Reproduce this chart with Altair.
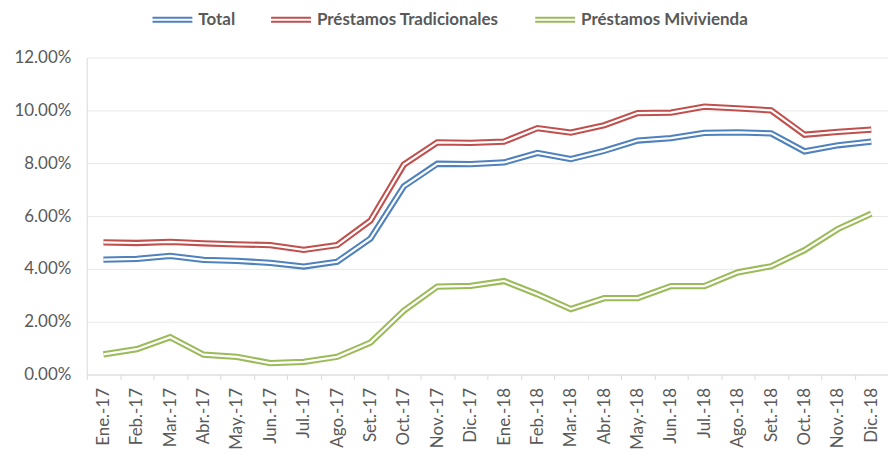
import altair as alt
import pandas as pd

meses = ["Ene.-17", "Feb.-17", "Mar.-17", "Abr.-17", "May.-17", "Jun.-17", "Jul.-17",
         "Ago.-17", "Set.-17", "Oct.-17", "Nov.-17", "Dic.-17", "Ene.-18", "Feb.-18",
         "Mar.-18", "Abr.-18", "May.-18", "Jun.-18", "Jul.-18", "Ago.-18", "Set.-18",
         "Oct.-18", "Nov.-18", "Dic.-18"]

total = [4.35, 4.38, 4.49, 4.34, 4.30, 4.23, 4.09, 4.27, 5.15, 7.13, 7.98, 7.97,
         8.03, 8.39, 8.16, 8.47, 8.86, 8.95, 9.15, 9.17, 9.13, 8.45, 8.68, 8.82]
tradicionales = [5.00, 4.98, 5.02, 4.97, 4.93, 4.90, 4.72, 4.90, 5.83, 7.95, 8.79, 8.77,
                 8.82, 9.33, 9.16, 9.44, 9.90, 9.92, 10.14, 10.08, 10.00, 9.08, 9.19, 9.27]
mivivienda = [0.76, 0.96, 1.41, 0.75, 0.67, 0.43, 0.48, 0.67, 1.21, 2.42, 3.33, 3.36,
              3.54, 3.04, 2.48, 2.89, 2.89, 3.35, 3.35, 3.87, 4.10, 4.71, 5.51, 6.09]

series = ["Total", "Préstamos Tradicionales", "Préstamos Mivivienda"]
colores = ["#4F81BD", "#C0504D", "#9BBB59"]
y_ticks = [0, 2, 4, 6, 8, 10, 12]

rows = []
for nombre, vals in zip(series, [total, tradicionales, mivivienda]):
    for m, v in zip(meses, vals):
        rows.append({"Mes": m, "Serie": nombre, "Valor": v})
df = pd.DataFrame(rows)

FONT = "Lato"
TXT = "#595959"

x_enc = alt.X(
    "Mes:N", sort=meses, title=None,
    scale=alt.Scale(type="band", paddingInner=0, paddingOuter=0),
    axis=alt.Axis(labelAngle=-90, tickBand="extent", tickSize=5, tickColor="#d9d9d9",
                  domainColor="#d9d9d9", labelFont=FONT, labelFontSize=17,
                  labelColor=TXT, labelPadding=8, grid=False),
)
y_enc = alt.Y(
    "Valor:Q", title=None, scale=alt.Scale(domain=[0, 12], nice=False),
    axis=alt.Axis(values=y_ticks, labelExpr="format(datum.value, '.2f') + '%'",
                  ticks=False, domainColor="#d9d9d9", gridColor="#e8e8e8",
                  labelFont=FONT, labelFontSize=17, labelColor=TXT,
                  labelPadding=16),
)

base = alt.Chart(df).encode(x=x_enc, y=y_enc)

colored = base.mark_line(strokeWidth=6.3).encode(
    color=alt.Color(
        "Serie:N", sort=series,
        scale=alt.Scale(domain=series, range=colores),
        legend=alt.Legend(
            title=None, orient="none", direction="horizontal",
            legendX=65, legendY=-59, padding=0,
            symbolType="M-1,-0.1H1M-1,0.1H1", symbolSize=1600,
            symbolStrokeWidth=2, labelFont=FONT, labelFontSize=17,
            labelFontWeight="bold", labelColor=TXT, labelOffset=5,
            columnPadding=32, labelLimit=400,
        ),
    )
)
white = base.mark_line(strokeWidth=2.2, color="white").encode(detail="Serie:N")

chart = (
    alt.layer(colored, white)
    .properties(width=804, height=318,
                autosize=alt.AutoSizeParams(type="none"),
                padding={"left": 79, "top": 49, "right": 0, "bottom": 85})
    .configure_view(stroke=None)
)

chart.save("out.html", embed_options={"renderer": "svg", "actions": False})
